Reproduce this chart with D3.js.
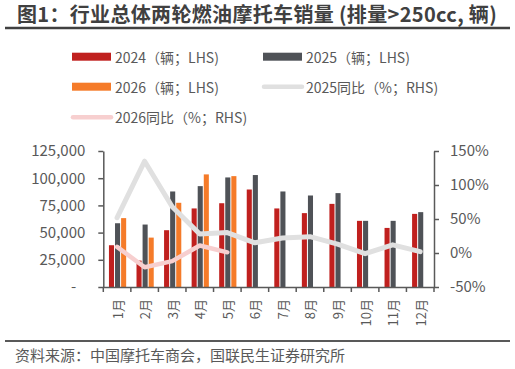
<!DOCTYPE html>
<html>
<head>
<meta charset="utf-8">
<script src="https://cdn.jsdelivr.net/npm/d3@7"></script>
<style>
  body { margin: 0; background: #fff; }
  svg text { font-family: "Noto Sans CJK SC", "Noto Sans", sans-serif; }
</style>
</head>
<body>
<div id="chart"></div>
<script>
// data
var months = ["1月","2月","3月","4月","5月","6月","7月","8月","9月","10月","11月","12月"];
var sales2024 = [38400, 24300, 52200, 72200, 77000, 89600, 72200, 67900, 76400, 60800, 54300, 67200];
var sales2025 = [58600, 57400, 87800, 92700, 100700, 102900, 87800, 84100, 86300, 60800, 60800, 68800];
var sales2026 = [63300, 45400, 77400, 103500, 101900];
var yoy2025 = [52, 135, 68, 28, 30, 15, 22, 24, 13, -1, 12, 2];
var yoy2026 = [9, -21, -12, 11, 1];
var leftTicks = [0, 25000, 50000, 75000, 100000, 125000];
var rightTicks = [-50, 0, 50, 100, 150];

var w = 515, h = 369;
var plotLeft = 103.3, plotRight = 434, plotTop = 151, plotBottom = 287;
var grey = "#595959";

var svg = d3.select("#chart").append("svg")
    .attr("width", w)
    .attr("height", h);

// title + rule
svg.append("text")
    .attr("x", 17).attr("y", 21.5)
    .attr("font-size", 20).attr("font-weight", "bold")
    .attr("letter-spacing", 0.33)
    .attr("fill", "#404040")
    .text("图1：行业总体两轮燃油摩托车销量 (排量>250cc, 辆)");
svg.append("line")
    .attr("x1", 5).attr("x2", 510).attr("y1", 28).attr("y2", 28)
    .attr("stroke", "#404040").attr("stroke-width", 2.5);

// scales
var x = d3.scaleBand().domain(months).range([plotLeft, plotRight]).padding(0);
var bw = x.bandwidth();
var series = ["s2024", "s2025", "s2026"];
var xs = d3.scaleBand().domain(series).range([bw * 0.205, bw * 0.83]).paddingInner(0.165);
var y = d3.scaleLinear().domain([0, 125000]).range([plotBottom, plotTop]);
var y2 = d3.scaleLinear().domain([-50, 150]).range([plotBottom, plotTop]);

var colors = { s2024: "#C0201E", s2025: "#4F5257", s2026: "#F57B29" };

var barData = [];
months.forEach(function(m, i) {
    barData.push({ m: m, s: "s2024", v: sales2024[i] });
    barData.push({ m: m, s: "s2025", v: sales2025[i] });
    if (i < sales2026.length) barData.push({ m: m, s: "s2026", v: sales2026[i] });
});

svg.append("g").selectAll("rect")
    .data(barData)
    .enter()
    .append("rect")
    .attr("x", function(d) { return x(d.m) + xs(d.s); })
    .attr("y", function(d) { return y(d.v); })
    .attr("width", xs.bandwidth())
    .attr("height", function(d) { return y(0) - y(d.v); })
    .attr("fill", function(d) { return colors[d.s]; });

// yoy lines
var line = d3.line()
    .x(function(d, i) { return x(months[i]) + bw / 2; })
    .y(function(d) { return y2(d); });

svg.append("path")
    .datum(yoy2025)
    .attr("d", line)
    .attr("fill", "none")
    .attr("stroke", "#E0E0E0")
    .attr("stroke-width", 5)
    .attr("stroke-linejoin", "round")
    .attr("stroke-linecap", "round");

svg.append("path")
    .datum(yoy2026)
    .attr("d", line)
    .attr("fill", "none")
    .attr("stroke", "#F7CFCF")
    .attr("stroke-width", 4.5)
    .attr("stroke-linejoin", "round")
    .attr("stroke-linecap", "round");

// axes
var fmt = d3.format(",");
var yAxis = svg.append("g")
    .attr("transform", "translate(" + plotLeft + ",0)")
    .call(d3.axisLeft(y).tickValues(leftTicks).tickSize(5).tickSizeOuter(0)
        .tickFormat(function(d) { return d === 0 ? "-" : fmt(d); }));

var y2Axis = svg.append("g")
    .attr("transform", "translate(" + plotRight + ",0)")
    .call(d3.axisRight(y2).tickValues(rightTicks).tickSize(5).tickSizeOuter(0)
        .tickFormat(function(d) { return d + "%"; }));

var xAxis = svg.append("g")
    .attr("transform", "translate(0," + plotBottom + ")")
    .call(d3.axisBottom(x).tickSize(0).tickFormat(""));

// x ticks at band edges
var edges = months.map(function(m) { return x(m); }).concat([plotRight]);
xAxis.selectAll(".edge")
    .data(edges)
    .enter()
    .append("line")
    .attr("x1", function(d) { return d; })
    .attr("x2", function(d) { return d; })
    .attr("y1", 0).attr("y2", 5)
    .attr("stroke", grey).attr("stroke-width", 1.5);

[yAxis, y2Axis, xAxis].forEach(function(g) {
    g.select(".domain").attr("stroke", grey).attr("stroke-width", 1.5);
    g.selectAll(".tick line").attr("stroke", grey).attr("stroke-width", 1.5);
    g.selectAll(".tick text")
        .attr("fill", grey)
        .attr("font-size", 15)
        .style("font-family", "'Noto Sans CJK SC', 'Noto Sans', sans-serif");
});
yAxis.selectAll(".tick text").attr("x", -18);
yAxis.selectAll(".tick text").filter(function(d) { return d === 0; }).attr("dx", -9);
y2Axis.selectAll(".tick text").attr("x", 16);

// month labels, rotated
svg.append("g").selectAll("text")
    .data(months)
    .enter()
    .append("text")
    .attr("transform", function(d) {
        return "translate(" + (x(d) + bw / 2) + "," + (plotBottom + 12) + ") rotate(-90)";
    })
    .attr("text-anchor", "end")
    .attr("dominant-baseline", "central")
    .attr("font-size", 13)
    .attr("fill", grey)
    .text(function(d) { return d; });

// legend
var legend = [
    { label: "2024（辆；LHS)", type: "rect", color: colors.s2024, x: 72, y: 56.7 },
    { label: "2025（辆；LHS)", type: "rect", color: colors.s2025, x: 263, y: 56.7 },
    { label: "2026（辆；LHS)", type: "rect", color: colors.s2026, x: 72, y: 86.7 },
    { label: "2025同比（%；RHS)", type: "line", color: "#E0E0E0", x: 263, y: 86.7 },
    { label: "2026同比（%；RHS)", type: "line", color: "#F7CFCF", x: 72, y: 117.3 }
];

var lg = svg.append("g").selectAll("g")
    .data(legend)
    .enter()
    .append("g");

lg.filter(function(d) { return d.type === "rect"; })
    .append("rect")
    .attr("x", function(d) { return d.x; })
    .attr("y", function(d) { return d.y - 4; })
    .attr("width", 39).attr("height", 8)
    .attr("fill", function(d) { return d.color; });

lg.filter(function(d) { return d.type === "line"; })
    .append("line")
    .attr("x1", function(d) { return d.x + 1; })
    .attr("x2", function(d) { return d.x + 39; })
    .attr("y1", function(d) { return d.y; })
    .attr("y2", function(d) { return d.y; })
    .attr("stroke", function(d) { return d.color; })
    .attr("stroke-width", 4.5)
    .attr("stroke-linecap", "round");

lg.append("text")
    .attr("x", function(d) { return d.x + 43; })
    .attr("y", function(d) { return d.y; })
    .attr("dominant-baseline", "central")
    .attr("font-size", 14)
    .attr("fill", grey)
    .text(function(d) { return d.label; });

// source
svg.append("line")
    .attr("x1", 5).attr("x2", 510).attr("y1", 341).attr("y2", 341)
    .attr("stroke", grey).attr("stroke-width", 2);
svg.append("text")
    .attr("x", 15).attr("y", 354)
    .attr("dominant-baseline", "central")
    .attr("font-size", 15)
    .attr("fill", grey)
    .text("资料来源：中国摩托车商会，国联民生证券研究所");
</script>
</body>
</html>
